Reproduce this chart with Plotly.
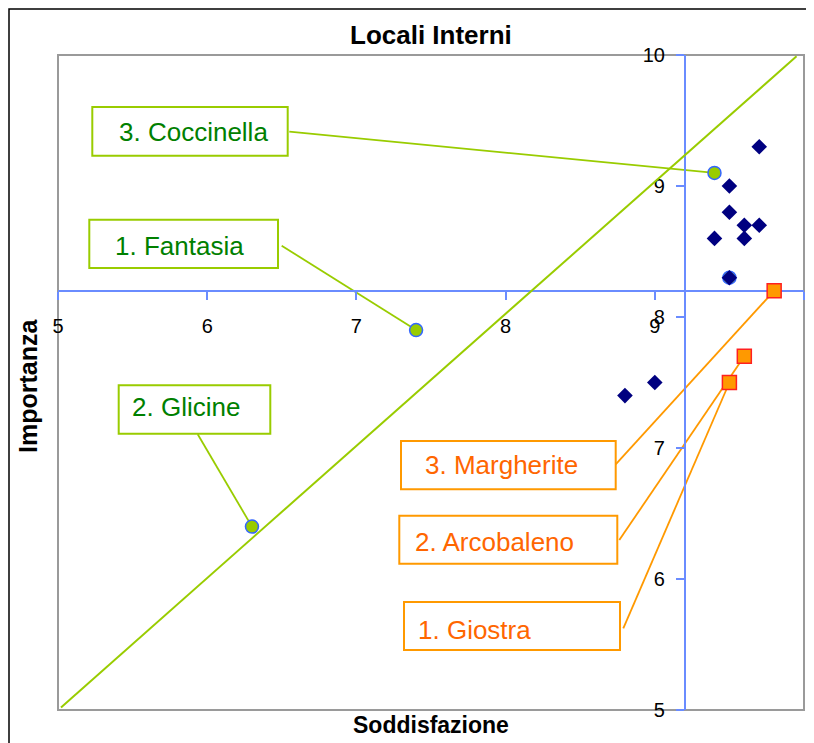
import plotly.graph_objects as go

# ---------------- data ----------------
diamond_x = [9.7, 9.5, 9.5, 9.6, 9.7, 9.4, 9.6, 9.5, 8.8, 9.0]
diamond_y = [9.3, 9.0, 8.8, 8.7, 8.7, 8.6, 8.6, 8.3, 7.4, 7.5]

green_names = ["1. Fantasia", "2. Glicine", "3. Coccinella", ""]
green_x = [7.4, 6.3, 9.4, 9.5]
green_y = [7.9, 6.4, 9.1, 8.3]

orange_names = ["1. Giostra", "2. Arcobaleno", "3. Margherite"]
orange_x = [9.5, 9.6, 9.8]
orange_y = [7.5, 7.7, 8.2]

diag_x = [5.02, 9.95]
diag_y = [5.02, 9.99]

x_ticks = [5, 6, 7, 8, 9, 10]
y_ticks = [5, 6, 7, 8, 9, 10]
x_range = [5, 10]
y_range = [5, 10]
x_cross = 9.2   # where the vertical axis crosses
y_cross = 8.2   # where the horizontal axis crosses

title = "Locali Interni"
x_title = "Soddisfazione"
y_title = "Importanza"

# ---------------- layout helpers ----------------
OFF = 8                      # page body margin
W, H = 814 - OFF, 743 - OFF  # figure size
ML, MR, MT, MB = 58 - OFF, 10, 55 - OFF, 33
PW, PH = W - ML - MR, H - MT - MB


def px2x(px):
    return x_range[0] + (px - OFF - ML) / PW * (x_range[1] - x_range[0])


def py2y(py):
    return y_range[1] - (py - OFF - MT) / PH * (y_range[1] - y_range[0])


def px2p(px):
    return (px - OFF - ML) / PW


def py2p(py):
    return (H - MB - (py - OFF)) / PH


FONT = "Liberation Sans, Arial, sans-serif"
GREEN_LINE = "#99CC00"
GREEN_TEXT = "#008000"
ORANGE_LINE = "#FF9900"
ORANGE_TEXT = "#FF6600"
AXIS_BLUE = "#6A8CFF"

fig = go.Figure()

# diagonal
fig.add_trace(go.Scatter(x=diag_x, y=diag_y, mode="lines",
                         line=dict(color=GREEN_LINE, width=2),
                         hoverinfo="skip", showlegend=False))

# green circles
fig.add_trace(go.Scatter(x=green_x, y=green_y, mode="markers",
                         marker=dict(symbol="circle", size=13, color=GREEN_LINE,
                                     line=dict(color="#3366FF", width=1.5)),
                         text=green_names, showlegend=False))

# navy diamonds
fig.add_trace(go.Scatter(x=diamond_x, y=diamond_y, mode="markers",
                         marker=dict(symbol="diamond", size=12, color="#000080",
                                     line=dict(width=0)),
                         showlegend=False))

# orange squares
fig.add_trace(go.Scatter(x=orange_x, y=orange_y, mode="markers",
                         marker=dict(symbol="square", size=14, color=ORANGE_LINE,
                                     line=dict(color="#FF2020", width=1.5)),
                         text=orange_names, showlegend=False))

shapes = []
annotations = []

# callout boxes (pixel boxes), text left position, text centre y, line anchor
green_boxes = {
    "1. Fantasia": ((89.3, 219.7, 278, 268), 113.3, 245.8, (281.7, 245.7)),
    "2. Glicine": ((118.7, 385.3, 270.3, 433.7), 130, 407.5, (197.7, 434.3)),
    "3. Coccinella": ((92.3, 107, 287.7, 155.7), 116.7, 132.3, (289.3, 131.7)),
}
orange_boxes = {
    "1. Giostra": ((404, 602, 620, 650), 416, 629.7, (623.3, 628.3)),
    "2. Arcobaleno": ((399.3, 515.7, 617.3, 563.7), 413.3, 542, (619.3, 540)),
    "3. Margherite": ((401, 441, 615.7, 489.3), 422.7, 465, (615.7, 464.3)),
}


def add_callouts(names, xs, ys, boxes, line_col, text_col):
    for name, xv, yv in zip(names, xs, ys):
        if name not in boxes:
            continue
        (x0, y0, x1, y1), tx, ty, (ax, ay) = boxes[name]
        shapes.append(dict(type="line", xref="x", yref="y",
                           x0=px2x(ax), y0=py2y(ay), x1=xv, y1=yv,
                           line=dict(color=line_col, width=1.8), layer="below"))
        shapes.append(dict(type="rect", xref="paper", yref="paper",
                           x0=px2p(x0), y0=py2p(y1), x1=px2p(x1), y1=py2p(y0),
                           line=dict(color=line_col, width=2),
                           fillcolor="white", layer="above"))
        annotations.append(dict(text=name, xref="paper", yref="paper",
                                x=px2p(tx), y=py2p(ty), xanchor="left",
                                yanchor="middle", showarrow=False,
                                font=dict(family=FONT, size=26, color=text_col)))


add_callouts(green_names, green_x, green_y, green_boxes, GREEN_LINE, GREEN_TEXT)
add_callouts(orange_names, orange_x, orange_y, orange_boxes, ORANGE_LINE, ORANGE_TEXT)

# plot-area border
shapes.append(dict(type="rect", xref="paper", yref="paper", x0=0, y0=0, x1=1, y1=1,
                   line=dict(color="#9A9A9A", width=2), layer="below"))
# outer chart border (cropped)
shapes.append(dict(type="rect", xref="paper", yref="paper",
                   x0=px2p(9), y0=py2p(760), x1=px2p(830), y1=py2p(9),
                   line=dict(color="black", width=1.5), layer="below"))

# titles
annotations.append(dict(text="<b>%s</b>" % title, xref="paper", yref="paper",
                        x=0.5, y=py2p(35), xanchor="center", yanchor="middle",
                        showarrow=False, font=dict(family=FONT, size=26, color="black")))
annotations.append(dict(text="<b>%s</b>" % x_title, xref="paper", yref="paper",
                        x=0.5, y=py2p(725), xanchor="center", yanchor="middle",
                        showarrow=False, font=dict(family=FONT, size=23, color="black")))
annotations.append(dict(text="<b>%s</b>" % y_title, xref="paper", yref="paper",
                        x=px2p(28), y=py2p(386), xanchor="center", yanchor="middle",
                        textangle=-90, showarrow=False,
                        font=dict(family=FONT, size=25, color="black")))

fig.update_layout(
    width=W, height=H,
    margin=dict(l=ML, r=MR, t=MT, b=MB, autoexpand=False),
    paper_bgcolor="white", plot_bgcolor="white",
    font=dict(family=FONT, color="black"),
    shapes=shapes, annotations=annotations,
    xaxis=dict(range=x_range, tickvals=x_ticks, showgrid=False, zeroline=False,
               showline=True, linecolor=AXIS_BLUE, linewidth=1.5,
               ticks="outside", ticklen=8, tickwidth=1.5, tickcolor=AXIS_BLUE,
               anchor="free", position=(y_cross - y_range[0]) / (y_range[1] - y_range[0]),
               tickfont=dict(family=FONT, size=20, color="black"),
               ticklabelstandoff=9, layer="below traces"),
    yaxis=dict(range=y_range, tickvals=y_ticks, showgrid=False, zeroline=False,
               showline=True, linecolor=AXIS_BLUE, linewidth=1.5,
               ticks="outside", ticklen=8, tickwidth=1.5, tickcolor=AXIS_BLUE,
               anchor="free", position=(x_cross - x_range[0]) / (x_range[1] - x_range[0]),
               tickfont=dict(family=FONT, size=20, color="black"),
               ticklabelstandoff=7, layer="below traces"),
    hovermode=False,
)

fig.write_html("out.html")
